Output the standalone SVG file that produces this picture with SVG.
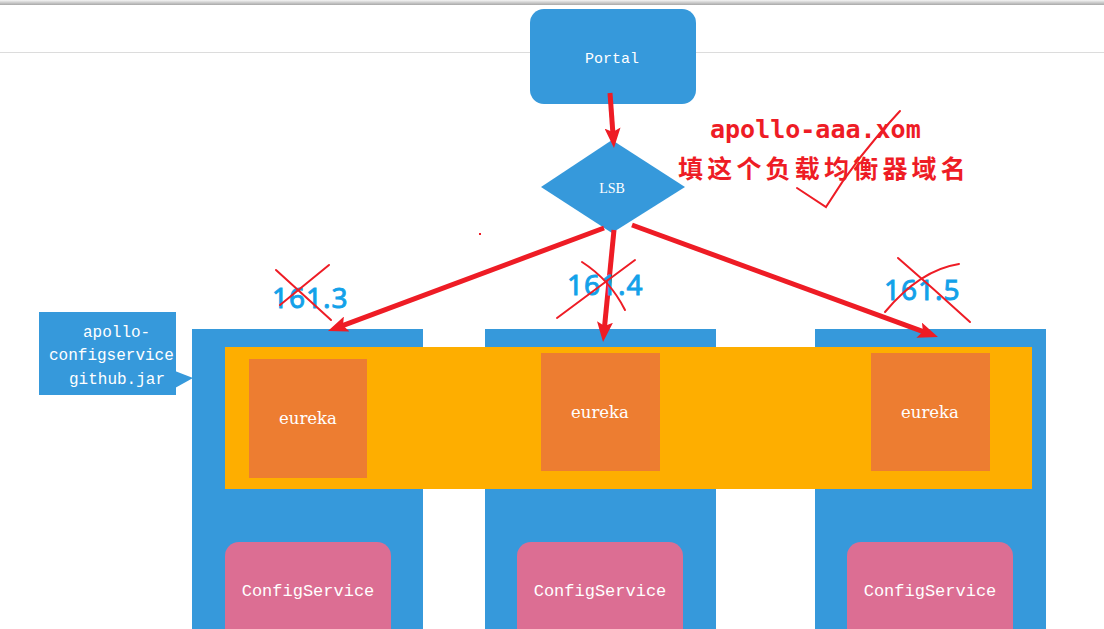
<svg xmlns="http://www.w3.org/2000/svg" width="1104" height="629" viewBox="0 0 1104 629">
<defs>
<marker id="ah" viewBox="0 0 20 16" refX="8" refY="8" markerWidth="20" markerHeight="16" markerUnits="userSpaceOnUse" orient="auto">
<path d="M0,0 L20,8 L0,16 L4,8 z" fill="#EE1C25"/>
</marker>
<linearGradient id="topbar" x1="0" y1="0" x2="0" y2="1">
<stop offset="0" stop-color="#f4f4f4"/>
<stop offset="1" stop-color="#a8a8a8"/>
</linearGradient>
</defs>
<style>
.blue{fill:#3699DB}
.band{fill:#FEAE00}
.eu{fill:#ED7D31}
.cs{fill:#DC6E93}
.wt{fill:#ffffff;text-anchor:middle}
.mono{font-family:"Liberation Mono","DejaVu Sans Mono",monospace}
.serif{font-family:"Liberation Serif","DejaVu Serif",serif}
.dserif{font-family:"DejaVu Serif","Liberation Serif",serif}
.conn{stroke:#EE1C25;stroke-width:5;fill:none;marker-end:url(#ah)}
.mark{stroke:#EE1C25;stroke-width:2;fill:none;stroke-linecap:round}
.ip{fill:#13A1E9;font-family:"Noto Sans","DejaVu Sans",sans-serif;font-size:28px;font-weight:normal;stroke:#13A1E9;stroke-width:0.9;letter-spacing:1px}
</style>
<rect x="0" y="0" width="1104" height="629" fill="#ffffff"/>
<rect x="0" y="0" width="1104" height="5" fill="url(#topbar)"/>
<line x1="0" y1="52.5" x2="1104" y2="52.5" stroke="#dcdcdc" stroke-width="1"/>

<g id="node-portal">
<rect x="530" y="9" width="166" height="95" rx="14" class="blue"/>
<text x="612" y="63" class="wt mono" font-size="15">Portal</text>
</g>

<g id="node-lsb">
<polygon points="612,140 685,187 612,233 541,187" class="blue"/>
<text x="612" y="193" class="wt serif" font-size="14">LSB</text>
</g>

<g id="node-left">
<rect x="192" y="329" width="231" height="300" class="blue"/>
</g>
<g id="node-mid">
<rect x="485" y="329" width="231" height="300" class="blue"/>
</g>
<g id="node-right">
<rect x="815" y="329" width="231" height="300" class="blue"/>
</g>

<g id="node-band">
<rect x="225" y="347" width="807" height="142" class="band"/>
</g>

<g id="node-eureka1">
<rect x="249" y="359" width="118" height="119" class="eu"/>
<text x="308" y="424" class="wt dserif" font-size="16.5">eureka</text>
</g>
<g id="node-eureka2">
<rect x="541" y="353" width="119" height="118" class="eu"/>
<text x="600" y="418" class="wt dserif" font-size="16.5">eureka</text>
</g>
<g id="node-eureka3">
<rect x="871" y="353" width="119" height="118" class="eu"/>
<text x="930" y="418" class="wt dserif" font-size="16.5">eureka</text>
</g>

<g id="node-cs1">
<rect x="225" y="542" width="166" height="110" rx="14" class="cs"/>
<text x="308" y="596" class="wt mono" font-size="17">ConfigService</text>
</g>
<g id="node-cs2">
<rect x="517" y="542" width="166" height="110" rx="14" class="cs"/>
<text x="600" y="596" class="wt mono" font-size="17">ConfigService</text>
</g>
<g id="node-cs3">
<rect x="847" y="542" width="166" height="110" rx="14" class="cs"/>
<text x="930" y="596" class="wt mono" font-size="17">ConfigService</text>
</g>

<g id="node-callout">
<rect x="39" y="312" width="137" height="83" class="blue"/>
<polygon points="175,371 193,378 175,388" class="blue"/>
<text class="mono" font-size="16" fill="#ffffff">
<tspan x="83" y="337">apollo-</tspan>
<tspan x="49" y="360">configservice</tspan>
<tspan x="69" y="384">github.jar</tspan>
</text>
</g>

<g id="connectors">
<path class="conn" d="M610,93 L613.1,136"/>
<path class="conn" d="M604,228 L339.2,326.8"/>
<path class="conn" d="M614,230 L604.2,330"/>
<path class="conn" d="M632,225 L926.7,332.9"/>
</g>

<g id="annotations">
<text x="710" y="138" fill="#EE1C25" font-family="'DejaVu Sans Mono','Liberation Mono',monospace" font-weight="bold" font-size="25">apollo-aaa.xom</text>
<text x="678" y="178" fill="#EE1C25" font-family="'Noto Sans CJK SC',sans-serif" font-weight="bold" font-size="25" letter-spacing="4.2">填这个负载均衡器域名</text>
<path class="mark" d="M797,188 L826,207 Q858,155 900,111"/>
<rect x="479" y="233" width="2" height="2" fill="#EE1C25"/>

<text x="272" y="308" class="ip">161.3</text>
<text x="567" y="295" class="ip">161.4</text>
<text x="884" y="300" class="ip">161.5</text>

<path class="mark" d="M276,270 L331,320"/>
<path class="mark" d="M329,265 L280,305"/>
<path class="mark" d="M557,318 L635,260"/>
<path class="mark" d="M582,262 Q610,280 625,310"/>
<path class="mark" d="M898,258 Q935,290 970,322"/>
<path class="mark" d="M885,312 Q920,270 959,264"/>
</g>
</svg>
